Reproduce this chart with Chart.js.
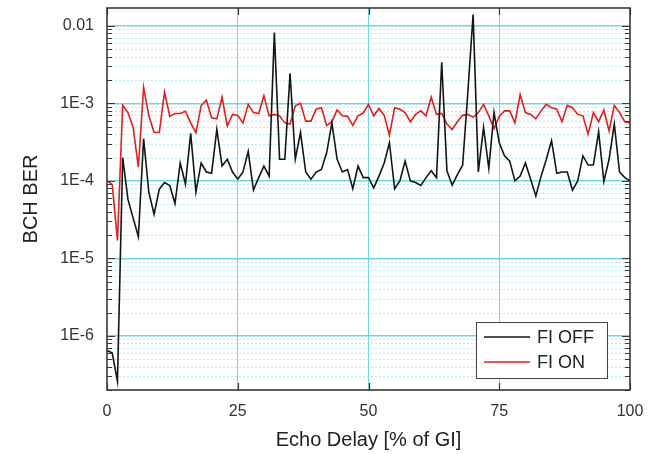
<!DOCTYPE html>
<html>
<head>
<meta charset="utf-8">
<script src="https://cdn.jsdelivr.net/npm/chart.js@4.4.1/dist/chart.umd.min.js"></script>
<style>
  html, body { margin: 0; padding: 0; background: #ffffff; }
  #wrap { width: 659px; height: 454px; position: relative; }
</style>
</head>
<body>
<div id="wrap"><canvas id="c" width="659" height="454"></canvas></div>
<script>
// ---- data ----
const delayPct = Array.from({ length: 101 }, (_, i) => i); // Echo Delay [% of GI], 0..100

const fiOff = [
  6.5e-7, 6.0e-7, 2.6e-7, 2.0e-4, 5.8e-5, 3.3e-5, 1.9e-5, 3.5e-4, 7.1e-5, 3.7e-5,
  7.8e-5, 9.5e-5, 8.7e-5, 5.1e-5, 1.7e-4, 9.1e-5, 4.1e-4, 7.2e-5, 1.7e-4, 1.3e-4,
  1.25e-4, 4.6e-4, 1.55e-4, 1.9e-4, 1.3e-4, 1.05e-4, 1.3e-4, 2.4e-4, 7.6e-5, 1.1e-4,
  1.55e-4, 1.15e-4, 8.2e-3, 1.9e-4, 1.9e-4, 2.45e-3, 1.9e-4, 4.2e-4, 1.3e-4, 1.05e-4,
  1.3e-4, 1.4e-4, 2.3e-4, 5.6e-4, 1.9e-4, 1.3e-4, 1.4e-4, 7.9e-5, 1.55e-4, 1.1e-4,
  1.1e-4, 8.1e-5, 1.15e-4, 1.7e-4, 3.1e-4, 7.9e-5, 1.0e-4, 1.8e-4, 1.0e-4, 9.5e-5,
  8.7e-5, 1.1e-4, 1.35e-4, 1.1e-4, 3.4e-3, 1.35e-4, 8.8e-5, 1.2e-4, 1.6e-4, 1.4e-3,
  1.4e-2, 1.3e-4, 4.9e-4, 1.45e-4, 7.6e-4, 3.1e-4, 2.1e-4, 1.8e-4, 1.0e-4, 1.15e-4,
  1.7e-4, 1.05e-4, 6.4e-5, 1.15e-4, 1.9e-4, 3.3e-4, 1.25e-4, 1.3e-4, 1.3e-4, 7.6e-5,
  1.0e-4, 2.1e-4, 1.6e-4, 1.6e-4, 4.3e-4, 9.8e-5, 1.9e-4, 5.4e-4, 1.3e-4, 1.1e-4,
  1.0e-4
];

const fiOn = [
  1.0e-4, 9.0e-5, 1.7e-5, 9.5e-4, 7.6e-4, 4.9e-4, 1.5e-4, 1.6e-3, 6.9e-4, 4.2e-4,
  4.2e-4, 1.4e-3, 6.8e-4, 7.4e-4, 7.4e-4, 7.9e-4, 5.6e-4, 4.2e-4, 9.3e-4, 1.1e-3,
  6.5e-4, 6.3e-4, 1.2e-3, 5.1e-4, 7.2e-4, 7.0e-4, 5.6e-4, 9.7e-4, 7.6e-4, 7.4e-4,
  1.25e-3, 6.9e-4, 7.2e-4, 6.9e-4, 5.6e-4, 5.4e-4, 9.3e-4, 1.0e-3, 5.9e-4, 5.9e-4,
  8.4e-4, 8.8e-4, 5.2e-4, 5.8e-4, 8.2e-4, 6.9e-4, 6.8e-4, 5.2e-4, 6.9e-4, 7.5e-4,
  9.7e-4, 6.9e-4, 8.6e-4, 7.0e-4, 3.9e-4, 8.8e-4, 8.4e-4, 7.6e-4, 5.8e-4, 7.2e-4,
  8.0e-4, 6.9e-4, 1.2e-3, 7.2e-4, 7.4e-4, 5.4e-4, 4.6e-4, 5.8e-4, 7.0e-4, 7.2e-4,
  6.6e-4, 7.6e-4, 9.7e-4, 6.9e-4, 4.7e-4, 6.8e-4, 8.0e-4, 8.0e-4, 5.6e-4, 1.3e-3,
  7.6e-4, 7.2e-4, 6.3e-4, 8.0e-4, 9.7e-4, 8.8e-4, 8.4e-4, 5.8e-4, 9.4e-4, 8.8e-4,
  7.2e-4, 6.9e-4, 4.0e-4, 7.6e-4, 5.8e-4, 8.2e-4, 4.4e-4, 9.4e-4, 7.6e-4, 5.8e-4,
  5.6e-4
];

const seriesLabels = ['FI OFF', 'FI ON'];
const xTickValues = [0, 25, 50, 75, 100];
const yDecades = [1e-6, 1e-5, 1e-4, 1e-3, 1e-2];
const yDecadeLabels = ['1E-6', '1E-5', '1E-4', '1E-3', '0.01'];
const yMin = 2e-7;
const yMax = 0.017;

// ---- styles ----
const FONT = "'Liberation Sans', Arial, Helvetica, sans-serif";
const MAJOR_GRID = 'rgba(100, 215, 228, 0.95)';
const MINOR_GRID = 'rgba(140, 222, 234, 0.6)';
const FRAME = '#3a3a3a';

function isDecade(v) {
  const l = Math.log10(v);
  return Math.abs(l - Math.round(l)) < 1e-6;
}

const framePlugin = {
  id: 'frameTicksLegend',
  beforeDatasetsDraw(chart) {
    const { ctx, chartArea: a, scales: { y } } = chart;
    ctx.save();
    ctx.strokeStyle = MINOR_GRID;
    ctx.lineWidth = 1;
    ctx.setLineDash([2, 2]);
    y.ticks.forEach(t => {
      if (!isDecade(t.value)) {
        const py = Math.round(y.getPixelForValue(t.value)) + 0.5;
        ctx.beginPath();
        ctx.moveTo(a.left, py);
        ctx.lineTo(a.right, py);
        ctx.stroke();
      }
    });
    ctx.restore();
  },
  afterDatasetsDraw(chart) {
    const { ctx, chartArea: a, scales: { x, y } } = chart;
    ctx.save();
    ctx.strokeStyle = FRAME;
    ctx.lineWidth = 1.2;
    y.ticks.forEach(t => {
      const py = Math.round(y.getPixelForValue(t.value)) + 0.5;
      const len = isDecade(t.value) ? 8 : 5;
      ctx.beginPath();
      ctx.moveTo(a.left, py); ctx.lineTo(a.left + len, py);
      ctx.moveTo(a.right, py); ctx.lineTo(a.right - len, py);
      ctx.stroke();
    });
    x.ticks.forEach(t => {
      const px = Math.round(x.getPixelForValue(t.value)) + 0.5;
      ctx.beginPath();
      ctx.moveTo(px, a.bottom); ctx.lineTo(px, a.bottom - 7);
      ctx.moveTo(px, a.top); ctx.lineTo(px, a.top + 7);
      ctx.stroke();
    });
    ctx.lineWidth = 1.6;
    ctx.strokeRect(a.left, a.top, a.right - a.left, a.bottom - a.top);
    ctx.restore();
  },
  afterDraw(chart) {
    const { ctx, chartArea: a } = chart;
    const w = 131, h = 56;
    const x0 = a.right - 154, y0 = a.bottom - 68;
    ctx.save();
    ctx.fillStyle = '#ffffff';
    ctx.fillRect(x0, y0, w, h);
    ctx.strokeStyle = '#444444';
    ctx.lineWidth = 1;
    ctx.strokeRect(x0 + 0.5, y0 + 0.5, w, h);
    ctx.font = '18px ' + FONT;
    ctx.textBaseline = 'middle';
    chart.data.datasets.forEach((ds, i) => {
      const ly = y0 + 15 + i * 25;
      ctx.strokeStyle = ds.borderColor;
      ctx.lineWidth = 1.6;
      ctx.beginPath();
      ctx.moveTo(x0 + 8, ly); ctx.lineTo(x0 + 54, ly);
      ctx.stroke();
      ctx.fillStyle = '#222222';
      ctx.fillText(ds.label, x0 + 61, ly + 1);
    });
    ctx.restore();
  }
};

const toPoints = vals => vals.map((v, i) => ({ x: delayPct[i], y: v }));

new Chart(document.getElementById('c'), {
  type: 'line',
  data: {
    datasets: [
      { label: seriesLabels[0], data: toPoints(fiOff), borderColor: '#151515', borderWidth: 1.6, pointRadius: 0, tension: 0 },
      { label: seriesLabels[1], data: toPoints(fiOn), borderColor: '#e41e1e', borderWidth: 1.6, pointRadius: 0, tension: 0 }
    ]
  },
  options: {
    responsive: false,
    animation: false,
    devicePixelRatio: 1,
    layout: { padding: { left: 0, right: 29, top: 8, bottom: 0 } },
    plugins: { legend: { display: false }, tooltip: { enabled: false } },
    scales: {
      x: {
        type: 'linear',
        min: 0, max: 100,
        afterBuildTicks: s => { s.ticks = xTickValues.map(v => ({ value: v })); },
        afterFit: s => { s.height = 64; s.paddingLeft = 0; s.paddingRight = 0; },
        grid: {
          drawTicks: false,
          color: c => (c.tick && c.tick.value > 0 && c.tick.value < 100) ? MAJOR_GRID : 'rgba(0,0,0,0)',
          lineWidth: 1
        },
        border: { display: false },
        ticks: { padding: 12, color: '#333333', font: { family: FONT, size: 16 }, maxRotation: 0 },
        title: { display: true, text: 'Echo Delay [% of GI]', color: '#222222', font: { family: FONT, size: 20 }, padding: { top: 0, bottom: 2 } }
      },
      y: {
        type: 'logarithmic',
        min: yMin, max: yMax,
        afterBuildTicks: s => {
          const t = [];
          for (let e = -7; e <= -2; e++) {
            for (let m = 1; m <= 9; m++) {
              const v = m * Math.pow(10, e);
              if (v >= yMin * 0.999 && v <= yMax * 1.001) t.push({ value: v });
            }
          }
          s.ticks = t;
        },
        afterFit: s => { s.width = 107; s.paddingTop = 0; s.paddingBottom = 0; },
        grid: {
          drawTicks: false,
          color: c => (c.tick && isDecade(c.tick.value)) ? MAJOR_GRID : 'rgba(0,0,0,0)',
          lineWidth: 1.4
        },
        border: { display: false },
        ticks: {
          autoSkip: false,
          padding: 13,
          color: '#333333',
          font: { family: FONT, size: 16 },
          callback: v => {
            const i = yDecades.findIndex(d => Math.abs(d - v) / d < 1e-6);
            return i >= 0 ? yDecadeLabels[i] : '';
          }
        },
        title: { display: true, text: 'BCH BER', color: '#222222', font: { family: FONT, size: 20 }, padding: { top: 19, bottom: 0 } }
      }
    }
  },
  plugins: [framePlugin]
});
</script>
</body>
</html>
